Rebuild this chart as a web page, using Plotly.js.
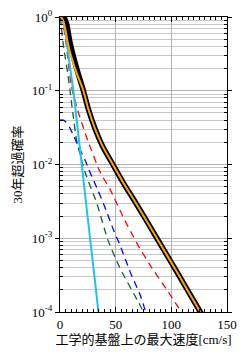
<!DOCTYPE html>
<html><head><meta charset="utf-8">
<script src="https://cdn.plot.ly/plotly-3.0.1.min.js"></script>
<style>html,body{margin:0;padding:0;background:#fff}#chart{width:247px;height:357px}</style>
</head><body><div id="chart"></div>
<script>
// Data
const totalX = [0, 2, 4, 6, 9, 15, 21, 25.5, 31, 38, 47.5, 57, 67, 77, 87, 106.5, 126, 130];
const totalP = [1, 1, 0.96, 0.8, 0.45, 0.2, 0.1, 0.056, 0.032, 0.018, 0.01, 0.0056, 0.0032, 0.0018, 0.001, 0.00032, 0.0001, 0.00008];
const orangeX = [0, 1, 3, 5, 8, 14, 21, 25.5, 31, 38, 47.5, 57, 67, 77, 87, 106.5, 126, 130];
const orangeP = [1, 0.99, 0.88, 0.65, 0.38, 0.19, 0.1, 0.056, 0.032, 0.018, 0.01, 0.0056, 0.0032, 0.0018, 0.001, 0.00032, 0.0001, 0.00008];
const redX = [0, 1, 3, 5, 7, 10, 15, 20, 25, 36, 45, 57, 69, 81, 96, 109];
const redP = [1, 0.98, 0.75, 0.5, 0.28, 0.12, 0.06, 0.035, 0.021, 0.0079, 0.0046, 0.0019, 0.00086, 0.00043, 0.0002, 0.0001];
const greenX = [0, 1, 2, 4, 7, 9, 12, 15, 22.5, 33, 43, 54, 70, 75];
const greenP = [1, 0.8, 0.55, 0.33, 0.17, 0.1, 0.044, 0.021, 0.0079, 0.003, 0.00095, 0.00039, 0.00014, 0.0001];
const blueX = [0, 3, 5, 9, 12, 17, 22.5, 27, 31.5, 34, 40.5, 48, 54, 63, 72, 77];
const blueP = [0.04, 0.04, 0.038, 0.031, 0.025, 0.017, 0.0115, 0.0078, 0.0055, 0.0045, 0.0026, 0.0013, 0.0008, 0.00035, 0.00017, 0.0001];
const cyanX = [0, 1, 2.5, 4.5, 7, 9, 12, 15, 18, 21, 24, 27, 30, 33, 34.5];
const cyanP = [1, 1, 0.9, 0.67, 0.35, 0.21, 0.1, 0.04, 0.016, 0.0063, 0.0025, 0.001, 0.0004, 0.00016, 0.0001];
const xTickVals = [0, 50, 100, 150];
const yTickVals = [1e-4, 1e-3, 1e-2, 1e-1, 1];
const yTickText = ['10<sup>-4</sup>', '10<sup>-3</sup>', '10<sup>-2</sup>', '10<sup>-1</sup>', '10<sup>0</sup>'];
const xTitle = '工学的基盤上の最大速度[cm/s]';
const yTitle = '30年超過確率';

const minorY = [];
for (let e = -4; e < 0; e++) for (let m = 2; m <= 9; m++) minorY.push(m * Math.pow(10, e));

const dash = '7px,5px';
const traces = [
  {x: greenX, y: greenP, mode: 'lines', line: {color: '#006633', width: 1.3, dash: dash, shape: 'spline', smoothing: 0.6}},
  {x: blueX, y: blueP, mode: 'lines', line: {color: '#0000ff', width: 1.3, dash: dash, shape: 'spline', smoothing: 0.6}},
  {x: redX, y: redP, mode: 'lines', line: {color: '#ff0000', width: 1.3, dash: dash, shape: 'spline', smoothing: 0.6}},
  {x: cyanX, y: cyanP, mode: 'lines', line: {color: '#1cc4f0', width: 2, shape: 'spline', smoothing: 0.6}},
  {x: totalX, y: totalP, mode: 'lines', line: {color: '#000000', width: 5.5, shape: 'spline', smoothing: 0.8}},
  {x: orangeX, y: orangeP, mode: 'lines', line: {color: '#ffa500', width: 2, shape: 'spline', smoothing: 0.8}}
];
const font = {family: 'Liberation Serif, Noto Sans CJK JP, serif', size: 13, color: '#000'};
const layout = {
  width: 247, height: 357,
  margin: {l: 60, r: 20, t: 17, b: 45},
  showlegend: false,
  paper_bgcolor: '#fff', plot_bgcolor: '#fff',
  font: font,
  xaxis: {
    range: [0, 150], tickvals: xTickVals, ticktext: xTickVals.map(String),
    showline: true, linecolor: '#000', linewidth: 1, mirror: 'allticks',
    ticks: 'inside', ticklen: 5, tickcolor: '#000',
    showgrid: true, gridcolor: '#b0b0b0', gridwidth: 1, zeroline: false,
    minor: {dtick: 5, ticks: 'inside', ticklen: 3, tickcolor: '#000', showgrid: false},
    title: {text: xTitle, font: font, standoff: 4},
    tickfont: font
  },
  yaxis: {
    type: 'log', range: [-4, 0], tickvals: yTickVals, ticktext: yTickText,
    showline: true, linecolor: '#000', linewidth: 1, mirror: 'allticks',
    ticks: 'outside', ticklen: 4, tickcolor: '#000',
    showgrid: true, gridcolor: '#b0b0b0', gridwidth: 1, zeroline: false,
    minor: {tickvals: minorY, ticks: 'inside', ticklen: 3, tickcolor: '#000', showgrid: true, gridcolor: '#c8c8c8', gridwidth: 1},
    title: {text: yTitle, font: font, standoff: 6},
    tickfont: font
  }
};
Plotly.newPlot('chart', traces, layout, {staticPlot: true, displayModeBar: false});
</script></body></html>
